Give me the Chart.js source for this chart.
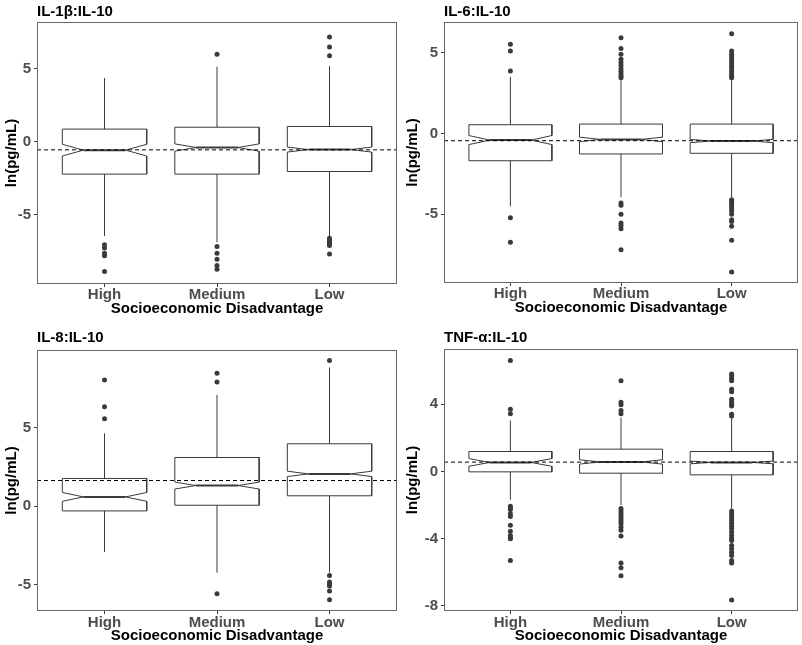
<!DOCTYPE html>
<html>
<head>
<meta charset="utf-8">
<script src="https://cdn.jsdelivr.net/npm/chart.js@4.4.1/dist/chart.umd.min.js"></script>
<style>
  body { margin: 0; background: #fff; }
  #wrap { position: relative; width: 802px; height: 645px; }
  canvas { position: absolute; }
</style>
</head>
<body>
<div id="wrap">
  <canvas id="c1" width="401" height="320" style="left:0;top:0"></canvas>
  <canvas id="c2" width="401" height="320" style="left:401px;top:0"></canvas>
  <canvas id="c3" width="401" height="325" style="left:0;top:320px"></canvas>
  <canvas id="c4" width="401" height="325" style="left:401px;top:320px"></canvas>
</div>
<script>
// categories shared by all four panels
const categories = ['High', 'Medium', 'Low'];

// IL-1β:IL-10
const il1bWhiskerLow = [-6.44, -6.87, -6.55];
const il1bQ1 = [-2.21, -2.21, -2.03];
const il1bNotchLow = [-0.97, -0.64, -0.70];
const il1bMedian = [-0.57, -0.39, -0.53];
const il1bNotchHigh = [-0.17, -0.14, -0.36];
const il1bQ3 = [0.87, 1.0, 1.05];
const il1bWhiskerHigh = [4.36, 5.14, 5.18];
const il1bOutliers = [
  [-7.05, -7.26, -7.62, -7.79, -8.88],
  [6.0, -7.17, -7.62, -8.03, -8.47, -8.72],
  [7.17, 6.49, 5.89, -6.6, -6.7, -6.8, -6.9, -7.0, -7.1, -7.67]
];
const il1bRef = -0.55;
const il1bTicks = [-5, 0, 5];

// IL-6:IL-10
const il6WhiskerLow = [-4.52, -3.95, -3.95];
const il6Q1 = [-1.69, -1.27, -1.23];
const il6NotchLow = [-0.69, -0.51, -0.57];
const il6Median = [-0.41, -0.37, -0.47];
const il6NotchHigh = [-0.13, -0.23, -0.37];
const il6Q3 = [0.54, 0.58, 0.58];
const il6WhiskerHigh = [3.5, 3.36, 3.36];
const il6Outliers = [
  [5.52, 5.1, 3.87, -5.22, -6.73],
  [5.93, 5.26, 4.9, 4.6, 4.4, 4.2, 4.0, 3.85, 3.7, 3.55, 3.45, -4.3, -4.45, -5.0, -5.55, -5.7, -5.9, -7.2],
  [6.17, 5.1, 4.9, 4.75, 4.6, 4.45, 4.3, 4.15, 4.0, 3.85, 3.7, 3.55, 3.45,
   -4.1, -4.2, -4.35, -4.5, -4.65, -4.8, -5.0, -5.35, -5.45, -5.75, -6.62, -8.58]
];
const il6Ref = -0.45;
const il6Ticks = [-5, 0, 5];

// IL-8:IL-10
const il8WhiskerLow = [-2.9, -4.22, -4.2];
const il8Q1 = [-0.30, 0.06, 0.66];
const il8NotchLow = [0.31, 1.09, 1.88];
const il8Median = [0.59, 1.31, 2.05];
const il8NotchHigh = [0.87, 1.53, 2.22];
const il8Q3 = [1.76, 3.09, 3.96];
const il8WhiskerHigh = [4.62, 7.06, 8.8];
const il8Outliers = [
  [8.0, 6.31, 5.55],
  [8.43, 7.88, -5.55],
  [9.24, -4.4, -4.81, -4.95, -5.06, -5.38, -5.93]
];
const il8Ref = 1.63;
const il8Ticks = [-5, 0, 5];

// TNF-α:IL-10
const tnfWhiskerLow = [-1.68, -2.0, -2.2];
const tnfQ1 = [-0.02, -0.10, -0.20];
const tnfNotchLow = [0.31, 0.44, 0.46];
const tnfMedian = [0.54, 0.57, 0.54];
const tnfNotchHigh = [0.77, 0.70, 0.62];
const tnfQ3 = [1.19, 1.33, 1.19];
const tnfWhiskerHigh = [3.04, 3.2, 3.2];
const tnfOutliers = [
  [6.6, 3.71, 3.43, -2.06, -2.2, -2.26, -2.52, -2.68, -3.2, -3.56, -3.81, -3.95, -4.0, -5.3],
  [5.4, 4.12, 3.98, 3.63, 3.43, -2.2, -2.35, -2.5, -2.65, -2.8, -2.95, -3.1, -3.3, -3.5, -3.84, -5.45, -5.72, -6.2],
  [5.8, 5.7, 5.55, 5.4, 4.9, 4.75, 4.3, 4.15, 4.0, 3.9, 3.4, 3.3,
   -2.35, -2.5, -2.65, -2.8, -2.95, -3.1, -3.25, -3.4, -3.6, -3.8, -3.95, -4.1, -4.4, -4.6, -4.8, -5.0, -5.3, -5.45, -7.65]
];
const tnfRef = 0.56;
const tnfTicks = [-8, -4, 0, 4];

const FONT = "'Liberation Sans', Arial, Helvetica, sans-serif";
const LINE = '#3a3a3a';
const HALF = 0.375; // half box width in category units

function lineSet(points, width, stepped) {
  return {
    data: points, showLine: true, borderColor: LINE, borderWidth: width,
    pointRadius: 0, borderJoinStyle: 'miter', borderCapStyle: 'butt', tension: 0,
    stepped: stepped || false
  };
}

function boxDatasets(wl, q1, nl, med, nh, q3, wh, outl, ref) {
  const sets = [];
  // dashed reference line, first so it is drawn on top
  sets.push({
    data: [{ x: 0.4, y: ref }, { x: 3.6, y: ref }],
    showLine: true, borderColor: '#000', borderWidth: 1, borderDash: [4, 3],
    pointRadius: 0
  });
  categories.forEach((c, i) => {
    const x = i + 1;
    const h = HALF, q = HALF / 2;
    sets.push(lineSet([{ x: x - q, y: med[i] }, { x: x + q, y: med[i] }], 2));
    sets.push(lineSet([
      { x: x - h, y: q3[i] }, { x: x + h, y: q3[i] }, { x: x + h, y: nh[i] },
      { x: x + q, y: med[i] }, { x: x + h, y: nl[i] }, { x: x + h, y: q1[i] },
      { x: x - h, y: q1[i] }, { x: x - h, y: nl[i] }, { x: x - q, y: med[i] },
      { x: x - h, y: nh[i] }, { x: x - h, y: q3[i] }
    ], 1));
    // whiskers (vertical, stepped keeps them off the fast path)
    sets.push(lineSet([{ x: x, y: q3[i] }, { x: x, y: wh[i] }], 1, 'before'));
    sets.push(lineSet([{ x: x, y: q1[i] }, { x: x, y: wl[i] }], 1, 'before'));
  });
  const pts = [];
  outl.forEach((arr, i) => arr.forEach(v => pts.push({ x: i + 1, y: v })));
  sets.push({
    data: pts, showLine: false, pointRadius: 2.5, pointBorderWidth: 0,
    pointBackgroundColor: LINE, pointBorderColor: LINE
  });
  return sets;
}

const framePlugin = {
  id: 'frame',
  afterDraw(chart, args, opts) {
    const { ctx, chartArea: a } = chart;
    ctx.save();
    ctx.strokeStyle = '#666';
    ctx.lineWidth = 1;
    ctx.strokeRect(a.left + 0.5, a.top + 0.5, a.right - a.left - 1, a.bottom - a.top - 1);
    ctx.font = 'bold 15px ' + FONT;
    ctx.fillStyle = '#000';
    ctx.textBaseline = 'middle';
    ctx.textAlign = 'left';
    ctx.fillText(opts.text, a.left, opts.y);
    ctx.restore();
  }
};

function makePanel(id, title, titleY, sets, yMin, yMax, yTicks, yWidth, xHeight, padTop, tickPad, titlePad) {
  new Chart(document.getElementById(id), {
    type: 'scatter',
    data: { datasets: sets },
    options: {
      responsive: false,
      animation: false,
      devicePixelRatio: 1,
      layout: { padding: { top: padTop, right: 3, left: 0, bottom: 0 } },
      plugins: {
        legend: { display: false },
        tooltip: { enabled: false },
        frame: { text: title, y: titleY }
      },
      scales: {
        x: {
          type: 'linear', min: 0.4, max: 3.6,
          afterBuildTicks: ax => { ax.ticks = categories.map((c, i) => ({ value: i + 1 })); },
          afterFit: ax => { ax.height = xHeight; },
          grid: { drawOnChartArea: false, tickLength: 3, color: LINE },
          border: { display: false },
          ticks: {
            padding: tickPad, color: '#4d4d4d', font: { family: FONT, size: 15, weight: 'bold' },
            callback: v => categories[v - 1]
          },
          title: {
            display: true, text: 'Socioeconomic Disadvantage', color: '#000',
            font: { family: FONT, size: 15, weight: 'bold' }, padding: { top: 0, bottom: titlePad }
          }
        },
        y: {
          min: yMin, max: yMax,
          afterBuildTicks: ax => { ax.ticks = yTicks.map(v => ({ value: v })); },
          afterFit: ax => { ax.width = yWidth; },
          grid: { drawOnChartArea: false, tickLength: 3, color: LINE },
          border: { display: false },
          ticks: { padding: 3, color: '#4d4d4d', font: { family: FONT, size: 15, weight: 'bold' } },
          title: {
            display: true, text: 'ln(pg/mL)', color: '#000',
            font: { family: FONT, size: 15, weight: 'bold' }, padding: { top: 3, bottom: 0 }
          }
        }
      }
    },
    plugins: [framePlugin]
  });
}

makePanel('c1', 'IL-1β:IL-10', 12,
  boxDatasets(il1bWhiskerLow, il1bQ1, il1bNotchLow, il1bMedian, il1bNotchHigh, il1bQ3, il1bWhiskerHigh, il1bOutliers, il1bRef),
  -9.73, 8.2, il1bTicks, 37, 36, 22, -1, 2);
makePanel('c2', 'IL-6:IL-10', 12,
  boxDatasets(il6WhiskerLow, il6Q1, il6NotchLow, il6Median, il6NotchHigh, il6Q3, il6WhiskerHigh, il6Outliers, il6Ref),
  -9.26, 6.9, il6Ticks, 43, 37, 22, -1, 3);
makePanel('c3', 'IL-8:IL-10', 18,
  boxDatasets(il8WhiskerLow, il8Q1, il8NotchLow, il8Median, il8NotchHigh, il8Q3, il8WhiskerHigh, il8Outliers, il8Ref),
  -6.65, 9.91, il8Ticks, 37, 34, 30, 0, 0);
makePanel('c4', 'TNF-α:IL-10', 18,
  boxDatasets(tnfWhiskerLow, tnfQ1, tnfNotchLow, tnfMedian, tnfNotchHigh, tnfQ3, tnfWhiskerHigh, tnfOutliers, tnfRef),
  -8.3, 7.29, tnfTicks, 43, 34, 29, 0, 0);
</script>
</body>
</html>
